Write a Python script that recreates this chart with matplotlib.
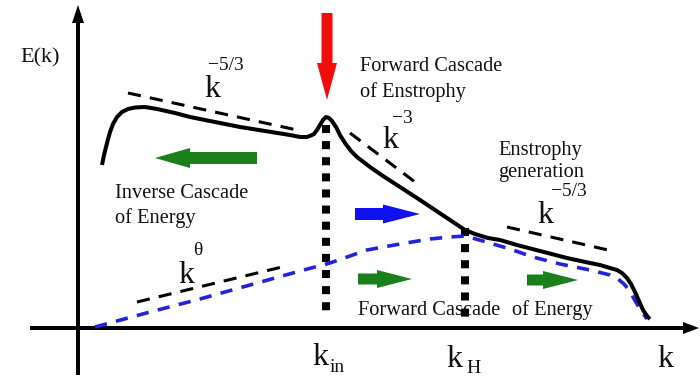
import numpy as np
import matplotlib
matplotlib.use('Agg')
import matplotlib.pyplot as plt
from matplotlib.patches import FancyArrow

plt.rcParams['font.family'] = ['Liberation Serif', 'DejaVu Serif']

# schematic energy spectrum E(k), origin at the axes crossing
spec_k = np.array([24, 26, 29, 32, 35, 39, 44, 50, 57, 67, 79, 97, 112, 137, 162, 187, 212, 222, 229,
                   233, 236, 239, 242, 245, 248, 251, 254, 258, 262, 267, 273, 279, 292, 305, 322,
                   339, 357, 372, 387, 397, 410, 422, 439, 462, 489, 512, 522, 532, 539, 544, 549,
                   553, 557, 561, 565, 569, 572])
spec_E = np.array([163, 173, 185, 196, 204, 211, 216, 219, 220.5, 221, 219, 215, 211, 206, 201, 197, 193, 191, 191,
                   192.5, 194, 198, 203, 208, 211, 210, 207, 201, 193, 185, 177, 171, 161, 152, 141,
                   130, 118, 108, 98, 94, 90, 88, 83, 77, 70, 65, 63, 60, 58, 55, 50,
                   44, 36, 27, 18, 12, 9])

# energy-only spectrum (blue dashed)
en_k = np.array([17, 72, 122, 172, 222, 252, 289, 322, 352, 372, 387, 405, 432, 455, 482,
                 512, 532, 540, 546, 551, 555, 559, 564, 569])
en_E = np.array([1, 16, 29, 43, 57, 65, 78, 84, 89, 91, 92, 87, 79, 71, 64,
                 58, 53, 49, 44, 38, 31, 24, 16, 9])

# power-law guides: (k0, E0, k1, E1)
guides = [(50, 235, 219, 198),    # k^-5/3 inverse range
          (272, 195, 337, 146),   # k^-3
          (429, 101, 530, 78),    # k^-5/3 forward range
          (59, 26, 204, 61)]      # k^theta
k_in, k_H = 248, 387

fig = plt.figure(figsize=(7, 3.79), dpi=100, facecolor='white')
ax = fig.add_axes([0, 0, 1, 1])
ax.set_xlim(-78, 622)
ax.set_ylim(-51, 328)
ax.axis('off')

# axes with arrow heads
ax.add_patch(FancyArrow(-48, 0, 669, 0, width=4, head_width=12, head_length=16,
                        length_includes_head=True, color='black', lw=0))
ax.add_patch(FancyArrow(0, -47, 0, 370, width=4, head_width=12, head_length=18,
                        length_includes_head=True, color='black', lw=0))

# vertical markers at k_in and k_H
ax.plot([k_in, k_in], [203, 10], color='black', lw=5.8, ls=(0, (1, 1)), solid_capstyle='butt')
ax.plot([k_H, k_H], [100, 4], color='black', lw=5.8, ls=(0, (1, 1)), solid_capstyle='butt')

for k0, e0, k1, e1 in guides:
    ax.plot([k0, k1], [e0, e1], color='black', lw=2.2, ls=(0, (4.3, 3)))

ax.plot(en_k, en_E, color='#2222dd', lw=2.6, ls=(0, (3.4, 2.6)))
ax.plot(spec_k, spec_E, color='black', lw=2.9, solid_joinstyle='round', solid_capstyle='butt')

# cascade arrows
green = '#1a801a'
ax.add_patch(FancyArrow(249, 315, 0, -87, width=11, head_width=20, head_length=37,
                        length_includes_head=True, color='#f20d0d', lw=0))
ax.add_patch(FancyArrow(179, 170, -102, 0, width=12, head_width=20, head_length=35,
                        length_includes_head=True, color=green, lw=0))
ax.add_patch(FancyArrow(277, 114, 65, 0, width=12, head_width=19, head_length=37,
                        length_includes_head=True, color='#1010f0', lw=0))
ax.add_patch(FancyArrow(280, 49, 54, 0, width=11, head_width=18, head_length=35,
                        length_includes_head=True, color=green, lw=0))
ax.add_patch(FancyArrow(449, 48, 51, 0, width=11, head_width=18, head_length=35,
                        length_includes_head=True, color=green, lw=0))

tc = '#111111'
ax.text(-38, 266, 'E(k)', fontsize=16, ha='center', va='baseline', color=tc)

# text blocks, one line each: (k, E, text)
lines = [(282, 257, 'Forward Cascade'), (282, 231, 'of Enstrophy'),
         (420, 173, 'Enstrophy'), (420, 151, 'generation'),
         (37, 130, 'Inverse Cascade'), (37, 105, 'of Energy'),
         (280, 13, 'Forward Cascade'), (434, 13, 'of Energy')]
for x, y, s in lines:
    ax.text(x, y, s, fontsize=14.7, ha='left', va='baseline', color=tc)

# k symbols with exponents / subscripts
big_k = [(134, 231), (312, 180), (467, 105), (108, 45), (242, -37), (376, -39), (587, -39)]
for x, y in big_k:
    ax.text(x, y, 'k', fontsize=23, ha='center', va='baseline', color=tc)
small = [(148, 258, '\u22125/3'), (324, 205, '\u22123'), (491, 132, '\u22125/3'),
         (120, 73, '\u03b8'), (259, -44, 'in'), (396, -45, 'H')]
for x, y, s in small:
    ax.text(x, y, s, fontsize=14, ha='center', va='baseline', color=tc)

fig.savefig('out.png', dpi=100, facecolor='white')
